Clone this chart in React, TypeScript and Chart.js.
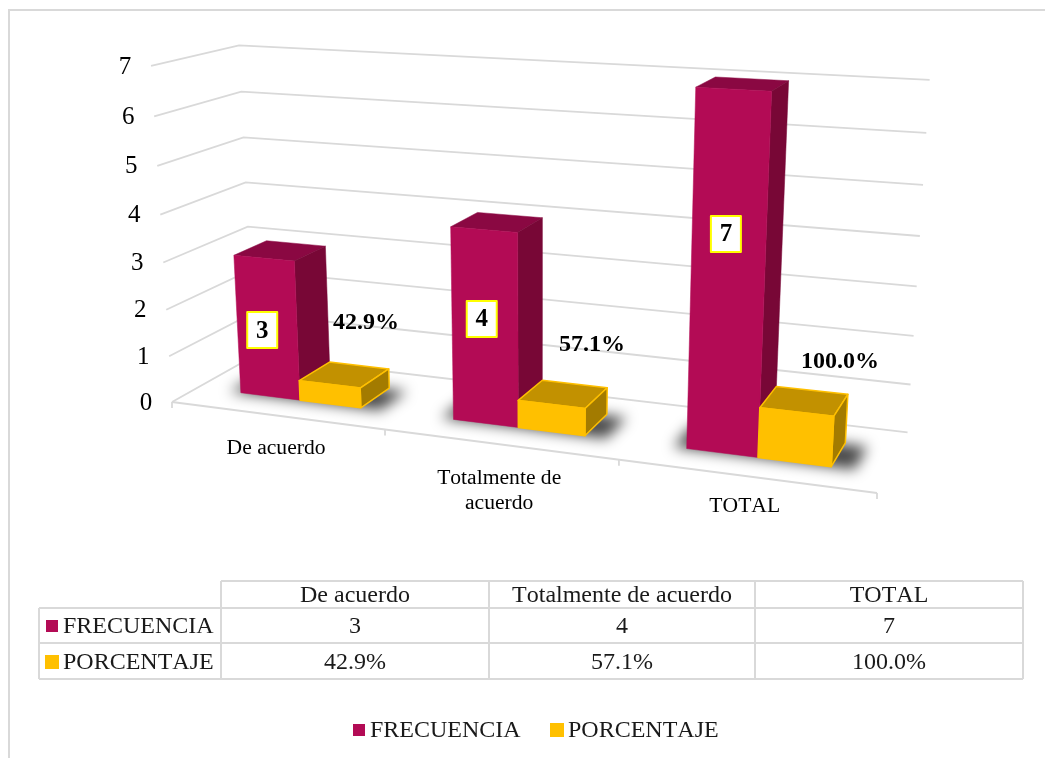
import React, { useEffect, useRef } from "react";
import { Chart, registerables } from "chart.js";

Chart.register(...registerables);

const categories = ["De acuerdo", "Totalmente de acuerdo", "TOTAL"];
const axisCategoryLines = [["De acuerdo"], ["Totalmente de", "acuerdo"], ["TOTAL"]];
const frecuencia = [3, 4, 7];
const porcentaje = [0.429, 0.571, 1.0];
const porcentajeLabels = ["42.9%", "57.1%", "100.0%"];
const yTicks = [0, 1, 2, 3, 4, 5, 6, 7];

const FONT = '"Liberation Serif"';
const GRID = "#d9d9d9";
const BAR_COLORS = [
  { front: "#b30b55", top: "#8a0842", side: "#780736", line: "#b30b55" },
  { front: "#ffc000", top: "#c29100", side: "#a37b00", line: "#ffc000" },
];
const BAR_Z = [0.3, 0.7];

// Perspective of the 3D scene: floor corners, horizontal foreshortening, vertical vanishing point
const P00 = [172, 402], P10 = [877, 493], P01 = [254, 356];
const G = -0.134, H = 0.085;
const VP = [540, 6300];
const K = 0.0077;
const M = {
  a: P10[0] * (1 + G) - P00[0], b: P01[0] * (1 + H) - P00[0], c: P00[0],
  d: P10[1] * (1 + G) - P00[1], e: P01[1] * (1 + H) - P00[1], f: P00[1],
};
function project(u: number, v: number, z: number): [number, number] {
  const w = G * u + H * z + 1 - K * v;
  return [
    (M.a * u + M.b * z + M.c - K * v * VP[0]) / w,
    (M.d * u + M.e * z + M.f - K * v * VP[1]) / w,
  ];
}

function poly(ctx: CanvasRenderingContext2D, pts: [number, number][]) {
  ctx.beginPath();
  pts.forEach((p, i) => (i ? ctx.lineTo(p[0], p[1]) : ctx.moveTo(p[0], p[1])));
  ctx.closePath();
}

const categoryLabelDrop = [32.5, 34, 30];
const frequencyLabelAt = [
  { level: 1.457, dx: -5 },
  { level: 2.187, dx: -3 },
  { level: 4.314, dx: -3 },
];
const percentLabelAt = [[366, 323], [592, 345], [840, 362]];

const scenePlugin = {
  id: "scene3d",
  beforeDatasetsDraw(chart: any) {
    const ctx: CanvasRenderingContext2D = chart.ctx;
    const area = chart.chartArea;
    const xs = chart.scales.x, ys = chart.scales.y;
    const toU = (px: number) => (px - area.left) / area.width;

    ctx.save();
    (ctx as any).fontKerning = "none";
    ctx.fillStyle = "#ffffff";
    ctx.fillRect(0, 0, chart.width, chart.height);

    // frame
    ctx.strokeStyle = GRID;
    ctx.lineWidth = 2;
    ctx.beginPath();
    ctx.moveTo(9, 758);
    ctx.lineTo(9, 10);
    ctx.lineTo(1045, 10);
    ctx.stroke();

    // walls
    ctx.lineWidth = 1.8;
    ys.ticks.forEach((t: any) => {
      const a = project(0, t.value, 0), b = project(0, t.value, 1), c = project(1, t.value, 1);
      ctx.beginPath();
      ctx.moveTo(a[0], a[1]);
      ctx.lineTo(b[0], b[1]);
      ctx.lineTo(c[0], c[1]);
      ctx.stroke();
      ctx.fillStyle = "#000";
      ctx.font = `25px ${FONT}`;
      ctx.textAlign = "center";
      ctx.textBaseline = "middle";
      ctx.fillText(String(t.value), a[0] - 26, a[1] + 1);
    });

    // floor front edge with category ticks
    const f0 = project(0, 0, 0), f1 = project(1, 0, 0);
    ctx.beginPath();
    ctx.moveTo(f0[0], f0[1]);
    ctx.lineTo(f1[0], f1[1]);
    ctx.stroke();
    for (let i = 0; i <= categories.length; i++) {
      const p = project(i / categories.length, 0, 0);
      ctx.beginPath();
      ctx.moveTo(p[0], p[1]);
      ctx.lineTo(p[0], p[1] + 6);
      ctx.stroke();
    }

    // category labels
    ctx.fillStyle = "#000";
    ctx.font = `21.6px ${FONT}`;
    ctx.textAlign = "center";
    ctx.textBaseline = "middle";
    categories.forEach((_, i) => {
      const u = toU(xs.getPixelForValue(i));
      const p = project(u, 0, 0);
      axisCategoryLines[i].forEach((line, j) => {
        ctx.fillText(line, p[0], p[1] + categoryLabelDrop[i] + j * 25);
      });
    });

    // bars, category by category
    const metas = [chart.getDatasetMeta(0), chart.getDatasetMeta(1)];
    const [z0, z1] = BAR_Z;
    categories.forEach((_, i) => {
      // floor shadow
      const first = metas[0].data[i], last = metas[1].data[i];
      const su0 = toU(first.x - first.width / 2), su1 = toU(last.x + last.width / 2);
      ctx.save();
      (ctx as any).filter = "blur(7px)";
      ctx.fillStyle = "rgba(0,0,0,0.72)";
      poly(ctx, [
        project(su0 - 0.018, 0, z0 + 0.0),
        project(su1 + 0.03, 0, z0 + 0.0),
        project(su1 + 0.03, 0, z1 - 0.02),
        project(su0 - 0.018, 0, z1 - 0.02),
      ]);
      ctx.fill();
      ctx.restore();

      metas.forEach((meta, d) => {
        const el = meta.data[i];
        const u0 = toU(el.x - el.width / 2), u1 = toU(el.x + el.width / 2);
        const v = ys.getValueForPixel(el.y);
        const c = BAR_COLORS[d];
        const a = project(u0, 0, z0), b = project(u1, 0, z0);
        const at = project(u0, v, z0), bt = project(u1, v, z0);
        const bb = project(u1, 0, z1), bbt = project(u1, v, z1), abt = project(u0, v, z1);
        ctx.lineJoin = "round";
        ctx.lineWidth = d === 1 ? 1.5 : 0.5;
        const face = (pts: [number, number][], fill: string) => {
          poly(ctx, pts);
          ctx.fillStyle = fill;
          ctx.fill();
          ctx.strokeStyle = d === 1 ? c.line : fill;
          ctx.stroke();
        };
        face([at, bt, bbt, abt], c.top);
        face([b, bb, bbt, bt], c.side);
        face([a, b, bt, at], c.front);
      });
    });

    // data labels: frecuencia boxed, porcentaje bold
    categories.forEach((_, i) => {
      const el = metas[0].data[i];
      const spec = frequencyLabelAt[i];
      const p = project(toU(el.x), spec.level, z0);
      const cx = p[0] + spec.dx, cy = p[1];
      ctx.fillStyle = "#ffffff";
      ctx.fillRect(cx - 15, cy - 18, 30, 36);
      ctx.strokeStyle = "#ffff00";
      ctx.lineWidth = 2;
      ctx.strokeRect(cx - 15, cy - 18, 30, 36);
      ctx.fillStyle = "#000";
      ctx.font = `bold 25px ${FONT}`;
      ctx.textAlign = "center";
      ctx.textBaseline = "middle";
      ctx.fillText(String(frecuencia[i]), cx, cy + 1);
      const q = percentLabelAt[i];
      ctx.font = `bold 24px ${FONT}`;
      ctx.fillText(porcentajeLabels[i], q[0], q[1]);
    });

    // data table
    ctx.strokeStyle = GRID;
    ctx.lineWidth = 2;
    const vx = [221, 489, 755, 1023], hy = [581, 608, 643, 679];
    ctx.beginPath();
    vx.forEach((x) => { ctx.moveTo(x, hy[0]); ctx.lineTo(x, hy[3]); });
    ctx.moveTo(39, hy[1]); ctx.lineTo(39, hy[3]);
    ctx.moveTo(221, hy[0]); ctx.lineTo(1023, hy[0]);
    ctx.moveTo(39, hy[1]); ctx.lineTo(1023, hy[1]);
    ctx.moveTo(39, hy[2]); ctx.lineTo(1023, hy[2]);
    ctx.moveTo(39, hy[3]); ctx.lineTo(1023, hy[3]);
    ctx.stroke();
    ctx.font = `24px ${FONT}`;
    ctx.textBaseline = "middle";
    ctx.textAlign = "center";
    ctx.fillStyle = "#1a1a1a";
    const rowY = [595.5, 626.5, 662.5];
    categories.forEach((cat, i) => {
      const cx = (vx[i] + vx[i + 1]) / 2;
      ctx.fillText(cat, cx, rowY[0]);
      ctx.fillText(String(frecuencia[i]), cx, rowY[1]);
      ctx.fillText(porcentajeLabels[i], cx, rowY[2]);
    });
    ctx.textAlign = "left";
    chart.data.datasets.forEach((ds: any, d: number) => {
      const y = rowY[d + 1];
      ctx.fillStyle = ds.backgroundColor;
      if (d === 0) ctx.fillRect(46, y - 6.5, 12, 12);
      else ctx.fillRect(45, y - 7.5, 14, 14);
      ctx.fillStyle = "#1a1a1a";
      ctx.fillText(ds.label, 63, y);
    });

    // legend
    const legendX = [[353, 370], [550, 568]];
    chart.data.datasets.forEach((ds: any, d: number) => {
      ctx.fillStyle = ds.backgroundColor;
      if (d === 0) ctx.fillRect(legendX[d][0], 724, 12, 12);
      else ctx.fillRect(legendX[d][0], 723, 14, 14);
      ctx.fillStyle = "#1a1a1a";
      ctx.fillText(ds.label, legendX[d][1], 730.5);
    });
    ctx.restore();
    return false;
  },
};

export default function App() {
  const ref = useRef<HTMLCanvasElement>(null);
  useEffect(() => {
    const chart = new Chart(ref.current!, {
      type: "bar",
      data: {
        labels: categories,
        datasets: [
          { label: "FRECUENCIA", data: frecuencia, backgroundColor: BAR_COLORS[0].front, categoryPercentage: 0.575, barPercentage: 1 },
          { label: "PORCENTAJE", data: porcentaje, backgroundColor: BAR_COLORS[1].front, categoryPercentage: 0.575, barPercentage: 1 },
        ],
      },
      options: {
        responsive: false,
        animation: false,
        layout: { padding: 0 },
        plugins: { legend: { display: false }, tooltip: { enabled: false } },
        scales: {
          x: { display: false },
          y: { display: false, min: yTicks[0], max: yTicks[yTicks.length - 1], ticks: { stepSize: 1 } },
        },
      },
      plugins: [scenePlugin],
    } as any);
    return () => chart.destroy();
  }, []);
  return (
    <div style={{ position: "fixed", left: 0, top: 0, width: 1045, height: 758, background: "#fff" }}>
      <canvas ref={ref} width={1045} height={758} style={{ display: "block" }} />
    </div>
  );
}
